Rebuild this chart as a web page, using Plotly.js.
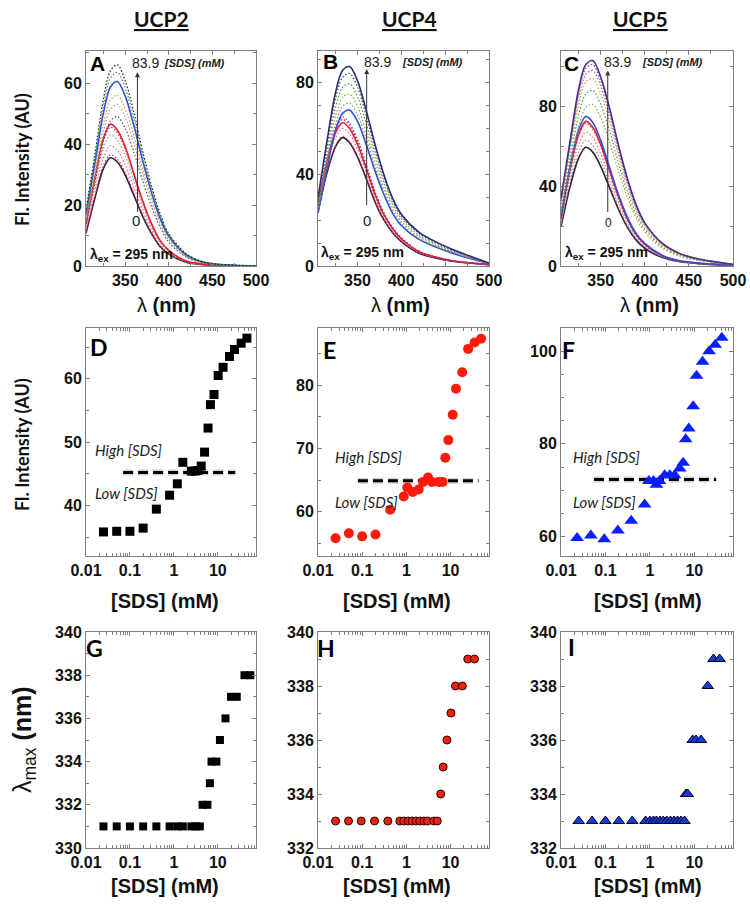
<!DOCTYPE html>
<html><head><meta charset="utf-8">
<script src="https://cdn.plot.ly/plotly-3.0.1.min.js"></script>
<style>html,body{margin:0;padding:0;background:#fff}#chart{width:750px;height:906px}</style>
</head><body><div id="chart"></div>
<script>
// ---------- DATA ----------
const wavelength = [305, 315, 325, 333, 341, 350, 360, 370, 380, 390, 400, 420, 440, 460, 500];

const spectraA = [
  [10.7, 22.0, 32.0, 35.5, 34.1, 29.8, 23.1, 16.3, 10.7, 6.4, 3.9, 1.2, 0.4, 0.1, 0],
  [11.0, 22.6, 32.9, 36.5, 35.0, 30.7, 23.7, 16.8, 11.0, 6.6, 4.0, 1.3, 0.4, 0.1, 0],
  [11.9, 24.5, 35.6, 39.5, 37.9, 33.2, 25.7, 18.2, 11.9, 7.1, 4.3, 1.4, 0.5, 0.2, 0],
  [12.9, 26.7, 38.7, 43.0, 41.3, 36.1, 28.0, 19.8, 12.9, 7.7, 4.7, 1.5, 0.5, 0.2, 0],
  [13.7, 28.2, 41.0, 45.5, 43.7, 38.2, 29.6, 20.9, 13.7, 8.2, 5.0, 1.6, 0.5, 0.2, 0],
  [14.0, 28.8, 41.9, 46.5, 44.6, 39.1, 30.2, 21.4, 14.0, 8.4, 5.1, 1.6, 0.6, 0.2, 0],
  [13.7, 27.0, 40.7, 47.5, 49.0, 45.1, 37.2, 27.9, 19.6, 12.7, 7.8, 2.9, 1.0, 0.4, 0],
  [14.8, 29.2, 44.0, 51.4, 53.0, 48.8, 40.3, 30.2, 21.2, 13.8, 8.5, 3.2, 1.1, 0.4, 0],
  [15.7, 30.8, 46.5, 54.3, 56.0, 51.5, 42.6, 31.9, 22.4, 14.6, 9.0, 3.4, 1.1, 0.4, 0],
  [16.9, 33.3, 50.2, 58.7, 60.5, 55.7, 46.0, 34.5, 24.2, 15.7, 9.7, 3.6, 1.2, 0.5, 0],
  [17.8, 34.9, 52.7, 61.6, 63.5, 58.4, 48.3, 36.2, 25.4, 16.5, 10.2, 3.8, 1.3, 0.5, 0],
  [18.5, 36.3, 54.8, 64.0, 66.0, 60.7, 50.2, 37.6, 26.4, 17.2, 10.6, 4.0, 1.3, 0.5, 0]
];
const colorsA = ['#2b1f3d','#d6204a','#e07090','#9a9a9a','#d03040','#e8202e','#555555','#c89090','#e09a40','#2f4fe0','#3ca040','#1a1a1a'];
const dashA = ['solid','dot','dot','dot','dot','solid','dot','dot','dot','solid','dot','dot'];

const spectraB = [
  [23.5, 40.3, 52.1, 56.0, 53.8, 47.6, 38.1, 28.0, 20.2, 14.6, 10.6, 5.6, 3.4, 2.0, 0.6],
  [23.7, 40.7, 52.5, 56.5, 54.2, 48.0, 38.4, 28.3, 20.3, 14.7, 10.7, 5.7, 3.4, 2.0, 0.6],
  [25.2, 43.2, 55.8, 60.0, 57.6, 51.0, 40.8, 30.0, 21.6, 15.6, 11.4, 6.0, 3.6, 2.1, 0.6],
  [26.3, 45.0, 58.1, 62.5, 60.0, 53.1, 42.5, 31.3, 22.5, 16.3, 11.9, 6.3, 3.8, 2.2, 0.6],
  [26.9, 46.1, 59.5, 64.0, 61.4, 54.4, 43.5, 32.0, 23.0, 16.6, 12.2, 6.4, 3.8, 2.2, 0.6],
  [27.3, 46.8, 60.5, 65.0, 62.4, 55.3, 44.2, 32.5, 23.4, 16.9, 12.4, 6.5, 3.9, 2.3, 0.7],
  [23.1, 42.2, 59.2, 66.6, 68.0, 63.2, 53.0, 41.5, 31.3, 23.1, 17.7, 11.6, 8.2, 5.4, 1.0],
  [24.1, 44.0, 61.8, 69.6, 71.0, 66.0, 55.4, 43.3, 32.7, 24.1, 18.5, 12.1, 8.5, 5.7, 1.1],
  [25.5, 46.5, 65.3, 73.5, 75.0, 69.8, 58.5, 45.8, 34.5, 25.5, 19.5, 12.8, 9.0, 6.0, 1.1],
  [27.0, 49.3, 69.2, 77.9, 79.5, 73.9, 62.0, 48.5, 36.6, 27.0, 20.7, 13.5, 9.5, 6.4, 1.2],
  [28.6, 52.1, 73.1, 82.3, 84.0, 78.1, 65.5, 51.2, 38.6, 28.6, 21.8, 14.3, 10.1, 6.7, 1.3],
  [29.6, 53.9, 75.7, 85.3, 87.0, 80.9, 67.9, 53.1, 40.0, 29.6, 22.6, 14.8, 10.4, 7.0, 1.3]
];
const colorsB = ['#2b1f3d','#d6204a','#e07090','#e8202e','#b02040','#8040a0','#2f4fe0','#8a8a8a','#a0a030','#3ca040','#444444','#2a2a7a'];
const dashB = ['solid','dot','dot','solid','dot','dot','solid','dot','dot','dot','dot','solid'];

const spectraC = [
  [19.6, 39.3, 54.1, 59.5, 57.1, 50.0, 39.3, 28.6, 19.6, 13.1, 8.9, 4.2, 2.1, 1.2, 0.3],
  [20.8, 41.6, 57.3, 63.0, 60.5, 52.9, 41.6, 30.2, 20.8, 13.9, 9.5, 4.4, 2.2, 1.3, 0.3],
  [22.1, 44.2, 61.0, 67.0, 64.3, 56.3, 44.2, 32.2, 22.1, 14.7, 10.1, 4.7, 2.3, 1.3, 0.3],
  [23.6, 47.2, 65.1, 71.5, 68.6, 60.1, 47.2, 34.3, 23.6, 15.7, 10.7, 5.0, 2.5, 1.4, 0.4],
  [23.9, 47.9, 66.0, 72.5, 69.6, 60.9, 47.9, 34.8, 23.9, 16.0, 10.9, 5.1, 2.5, 1.5, 0.4],
  [24.8, 49.5, 68.3, 75.0, 72.0, 63.0, 49.5, 36.0, 24.8, 16.5, 11.3, 5.3, 2.6, 1.5, 0.4],
  [26.7, 48.6, 69.7, 79.4, 81.0, 74.5, 62.4, 47.8, 34.8, 24.3, 17.0, 8.9, 4.9, 2.8, 0.6],
  [29.0, 52.8, 75.7, 86.2, 88.0, 81.0, 67.8, 51.9, 37.8, 26.4, 18.5, 9.7, 5.3, 3.1, 0.7],
  [31.0, 56.4, 80.8, 92.1, 94.0, 86.5, 72.4, 55.5, 40.4, 28.2, 19.7, 10.3, 5.6, 3.3, 0.8],
  [32.3, 58.8, 84.3, 96.0, 98.0, 90.2, 75.5, 57.8, 42.1, 29.4, 20.6, 10.8, 5.9, 3.4, 0.8],
  [33.3, 60.6, 86.9, 99.0, 101.0, 92.9, 77.8, 59.6, 43.4, 30.3, 21.2, 11.1, 6.1, 3.5, 0.8],
  [34.0, 61.8, 88.6, 100.9, 103.0, 94.8, 79.3, 60.8, 44.3, 30.9, 21.6, 11.3, 6.2, 3.6, 0.8]
];
const colorsC = ['#2b1f3d','#909090','#e07090','#d6204a','#e8202e','#2f4fe0','#a0a030','#3ca040','#e09a40','#7a7a7a','#9040b0','#4a2a8a'];
const dashC = ['solid','dot','dot','dot','solid','solid','dot','dot','dot','dot','dot','solid'];

// intensity vs [SDS]
const concD = [0.025,0.05,0.1,0.2,0.4,0.8,1.2,1.6,2.5,3.0,3.5,4.2,5.0,6.0,6.8,8.2,10.2,13.2,18.5,24,34,46];
const intensD = [35.8,35.9,35.9,36.4,39.4,41.6,43.4,46.8,45.4,45.4,45.5,46.2,48.4,52.2,55.9,57.5,60.5,61.8,63.5,64.6,65.6,66.4];
const concE = [0.025,0.05,0.1,0.2,0.43,0.87,1.05,1.4,1.9,2.4,3.1,3.8,5.4,6.6,7.6,8.9,11.2,13.3,18.4,25,35,49];
const intensE = [55.8,56.6,56.1,56.4,60.3,62.4,63.8,63.1,63.5,64.7,65.4,64.7,64.7,64.7,68.5,71.3,75.3,79.4,82.0,85.7,86.7,87.3];
const concF = [0.023,0.047,0.094,0.19,0.38,0.76,0.95,1.2,1.4,1.65,2.15,2.8,3.6,4.7,5.6,6.4,7.5,9.4,11.2,15.3,21.5,29.5,41.5];
const intensF = [59.7,60.2,59.4,61.3,63.4,66.9,72.0,72.0,71.2,72.0,73.2,73.2,73.2,74.7,75.9,81.0,83.3,88.1,94.7,97.7,100.0,101.4,102.9];

// threshold (dashed) lines
const cmcXD = [0.07, 25];  const cmcYD = [45.2, 45.2];
const cmcXE = [0.08, 43];  const cmcYE = [64.9, 64.9];
const cmcXF = [0.055, 31]; const cmcYF = [72.3, 72.3];

// lambda max vs [SDS]
const concG = [0.025,0.05,0.1,0.2,0.4,0.8,1.2,1.6,2.5,3.1,3.9,4.5,5.8,6.6,7.2,9.3,11.2,15,20,27,40.5,55];
const lmaxG = [331,331,331,331,331,331,331,331,331,331,331,332,332,333,334,334,335,336,337,337,338,338];
const concH = [0.025,0.049,0.095,0.19,0.38,0.71,0.87,1.1,1.35,1.66,2.0,2.5,3.0,4.2,5.0,6.0,6.8,8.3,10.2,12.9,18.5,24.5,34.7];
const lmaxH = [333,333,333,333,333,333,333,333,333,333,333,333,333,333,333,334,335,336,337,338,338,339,339];
const concI = [0.025,0.05,0.1,0.2,0.4,0.8,1.0,1.2,1.4,1.7,2.0,2.4,2.9,3.5,4.2,5.0,6.0,6.5,7.1,9.2,10.9,14.1,20,27,37];
const lmaxI = [333,333,333,333,333,333,333,333,333,333,333,333,333,333,333,333,333,334,334,336,336,336,338,339,339];

const tickSpec = ['350','400','450','500'];
const tickLog = ['0.01','0.1','1','10'];

// ---------- BUILD ----------
const W = 750, H = 906;
const colX = [[86,256],[318,489],[561,733]];
const rowY = [[51,266],[328,556],[632,848]];
const TICKF = 'Liberation Sans, Arial, sans-serif';
const CALF = 'Lato, Carlito, sans-serif';
const ax = k => (k === 1 ? '' : String(k));

const traces = [];
function specTraces(spectra, colors, dashes, k) {
  spectra.forEach((s, i) => {
    const solid = dashes[i] === 'solid';
    traces.push({x: wavelength, y: s, xaxis: 'x'+ax(k), yaxis: 'y'+ax(k), mode: 'lines', hoverinfo: 'skip',
      line: {color: colors[i], width: solid ? 1.6 : 1.2, dash: solid ? 'solid' : '1.5px,2px', shape: 'spline', smoothing: 0.9}});
  });
}
specTraces(spectraA, colorsA, dashA, 1);
specTraces(spectraB, colorsB, dashB, 2);
specTraces(spectraC, colorsC, dashC, 3);

function dashLine(xs, ys, k) {
  traces.push({x: xs, y: ys, xaxis: 'x'+k, yaxis: 'y'+k, mode: 'lines', hoverinfo: 'skip',
    line: {color: 'rgba(0,0,0,0.18)', width: 6, dash: '10px,5px'}});
  traces.push({x: xs, y: ys, xaxis: 'x'+k, yaxis: 'y'+k, mode: 'lines', hoverinfo: 'skip',
    line: {color: '#000', width: 3, dash: '10px,5px'}});
}
dashLine(cmcXD, cmcYD, 4); dashLine(cmcXE, cmcYE, 5); dashLine(cmcXF, cmcYF, 6);

traces.push({x: concD, y: intensD, xaxis: 'x4', yaxis: 'y4', mode: 'markers', marker: {symbol: 'square', size: 9, color: '#000'}});
traces.push({x: concE, y: intensE, xaxis: 'x5', yaxis: 'y5', mode: 'markers', marker: {symbol: 'circle', size: 10, color: '#ff1a0a'}});
traces.push({x: concF, y: intensF, xaxis: 'x6', yaxis: 'y6', mode: 'markers', marker: {symbol: 'triangle-up', size: 12, color: '#0a1eff'}});
traces.push({x: concG, y: lmaxG, xaxis: 'x7', yaxis: 'y7', mode: 'markers', marker: {symbol: 'square', size: 8, color: '#000'}});
traces.push({x: concH, y: lmaxH, xaxis: 'x8', yaxis: 'y8', mode: 'markers', marker: {symbol: 'circle', size: 8, color: '#e8250c', line: {color: '#3a0000', width: 1}}});
traces.push({x: concI, y: lmaxI, xaxis: 'x9', yaxis: 'y9', mode: 'markers', marker: {symbol: 'triangle-up', size: 10, color: '#1a3ccc', line: {color: '#000033', width: 1}}});

const layout = {width: W, height: H, margin: {l: 0, r: 0, t: 0, b: 0}, showlegend: false,
  paper_bgcolor: '#fff', plot_bgcolor: '#fff', annotations: []};

const yCfg = [
  {range: [0, 70.5], tickvals: [0,20,40,60], minor: 10},
  {range: [0, 93.8], tickvals: [0,40,80], minor: 10},
  {range: [0, 107.8], tickvals: [0,40,80], minor: 20},
  {range: [32, 68], tickvals: [40,50,60], minor: 5},
  {range: [53, 89], tickvals: [60,70,80], minor: 5},
  {range: [55.8, 105], tickvals: [60,80,100], minor: 5},
  {range: [330, 340], tickvals: [330,332,334,336,338,340], minor: 1},
  {range: [332, 340], tickvals: [332,334,336,338,340], minor: 1},
  {range: [332, 340], tickvals: [332,334,336,338,340], minor: 1}
];
const common = {showline: true, linecolor: '#808080', linewidth: 1, mirror: 'ticks', ticks: 'inside', ticklen: 4,
  tickwidth: 1, tickcolor: '#808080', showgrid: false, zeroline: false, fixedrange: true,
  tickfont: {family: TICKF, size: 16, weight: 'bold', color: '#111'}};

for (let r = 0; r < 3; r++) for (let c = 0; c < 3; c++) {
  const k = r*3 + c + 1;
  const xd = [colX[c][0]/W, colX[c][1]/W];
  const yd = [1 - rowY[r][1]/H, 1 - rowY[r][0]/H];
  let xa;
  if (r === 0) {
    xa = Object.assign({}, common, {domain: xd, anchor: 'y'+ax(k), range: [305, 500], tickmode: 'array',
      tickvals: tickSpec.map(Number), ticktext: tickSpec,
      minor: {dtick: 25, tick0: 300, ticks: 'inside', ticklen: 3, tickcolor: '#808080'}});
  } else {
    xa = Object.assign({}, common, {domain: xd, anchor: 'y'+ax(k), type: 'log', range: [-2, 1.87], tickmode: 'array',
      tickvals: tickLog.map(Number), ticktext: tickLog,
      minor: {dtick: 'D1', ticks: 'inside', ticklen: 3, tickcolor: '#808080'}});
  }
  const yc = yCfg[k-1];
  const ya = Object.assign({}, common, {domain: yd, anchor: 'x'+ax(k), range: yc.range, tickmode: 'array',
    tickvals: yc.tickvals, ticktext: yc.tickvals.map(String),
    minor: {dtick: yc.minor, ticks: 'inside', ticklen: 3, tickcolor: '#808080'}});
  layout['xaxis' + ax(k)] = xa;
  layout['yaxis' + ax(k)] = ya;
}

function pa(px, py, text, font, extra) {
  layout.annotations.push(Object.assign({xref: 'paper', yref: 'paper', x: px/W, y: 1 - py/H, text: text,
    showarrow: false, xanchor: 'center', yanchor: 'middle', font: font}, extra || {}));
}
// column titles
[['UCP2',161],['UCP4',409],['UCP5',640]].forEach(t =>
  pa(t[1], 19, '<b>' + t[0] + '</b>', {family: CALF, size: 21, color: '#111', lineposition: 'under'}));
// y titles
pa(22, 160, '<b>Fl. Intensity (AU)</b>', {family: CALF, size: 18, color: '#111'}, {textangle: -90});
pa(22, 445, '<b>Fl. Intensity (AU)</b>', {family: CALF, size: 18, color: '#111'}, {textangle: -90});
pa(24, 740, 'λ<sub>max</sub> <b>(nm)</b>', {family: TICKF, size: 25, color: '#111'}, {textangle: -90});
// x titles
[166, 401, 649].forEach(x => pa(x, 305, 'λ <b>(nm)</b>', {family: TICKF, size: 20, color: '#111'}));
[165, 397, 648].forEach(x => pa(x, 601, '<b>[SDS] (mM)</b>', {family: TICKF, size: 20, color: '#111'}));
[165, 397, 648].forEach(x => pa(x, 886, '<b>[SDS] (mM)</b>', {family: TICKF, size: 20, color: '#111'}));
// panel letters
[['A',97,63],['B',330,61],['C',571,63]].forEach(l => pa(l[1], l[2], '<b>'+l[0]+'</b>', {family: TICKF, size: 21, color: '#000'}));
[['D',99,347],['E',329,350],['F',568,350],['G',94,648],['H',326,648],['I',571,647]].forEach(l =>
  pa(l[1], l[2], '<b>'+l[0]+'</b>', {family: CALF, size: 23, color: '#000'}));
// 83.9 labels and arrows
[[130,63,162],[362,62,400],[602,62,640]].forEach(a => {
  pa(a[0], a[1], '83.9', {family: TICKF, size: 14, color: '#222'}, {xanchor: 'left'});
  pa(a[2], a[1], '<b><i>[SDS] (mM)</i></b>', {family: TICKF, size: 11, color: '#222'}, {xanchor: 'left'});
});
[[136,220,15],[367,220,15],[608,223,12]].forEach(z => pa(z[0], z[1], '0', {family: TICKF, size: z[2], color: '#222'}));
[[1,364,17.3,63.5],[2,360.5,25.8,86],[3,358,26.3,98]].forEach(a => {
  const s = ax(a[0]);
  layout.annotations.push({xref: 'x'+s, yref: 'y'+s, axref: 'x'+s, ayref: 'y'+s,
    x: a[1], y: a[3], ax: a[1], ay: a[2], text: '', showarrow: true, arrowhead: 2, arrowsize: 1,
    arrowwidth: 1, arrowcolor: '#333'});
});
// excitation labels
[[88,255],[319,253],[563,253]].forEach(p =>
  pa(p[0], p[1], '<b>λ<sub>ex</sub> = 295 nm</b>', {family: TICKF, size: 14, color: '#111'}, {xanchor: 'left'}));
// High / Low labels
[[93,450,493],[333,457,502],[571,457,502]].forEach(h => {
  pa(h[0], h[1], '<i>High [SDS]</i>', {family: CALF, size: 15, color: '#222'}, {xanchor: 'left'});
  pa(h[0], h[2], '<i>Low [SDS]</i>', {family: CALF, size: 15, color: '#222'}, {xanchor: 'left'});
});

Plotly.newPlot('chart', traces, layout, {staticPlot: true, displayModeBar: false});
</script></body></html>
